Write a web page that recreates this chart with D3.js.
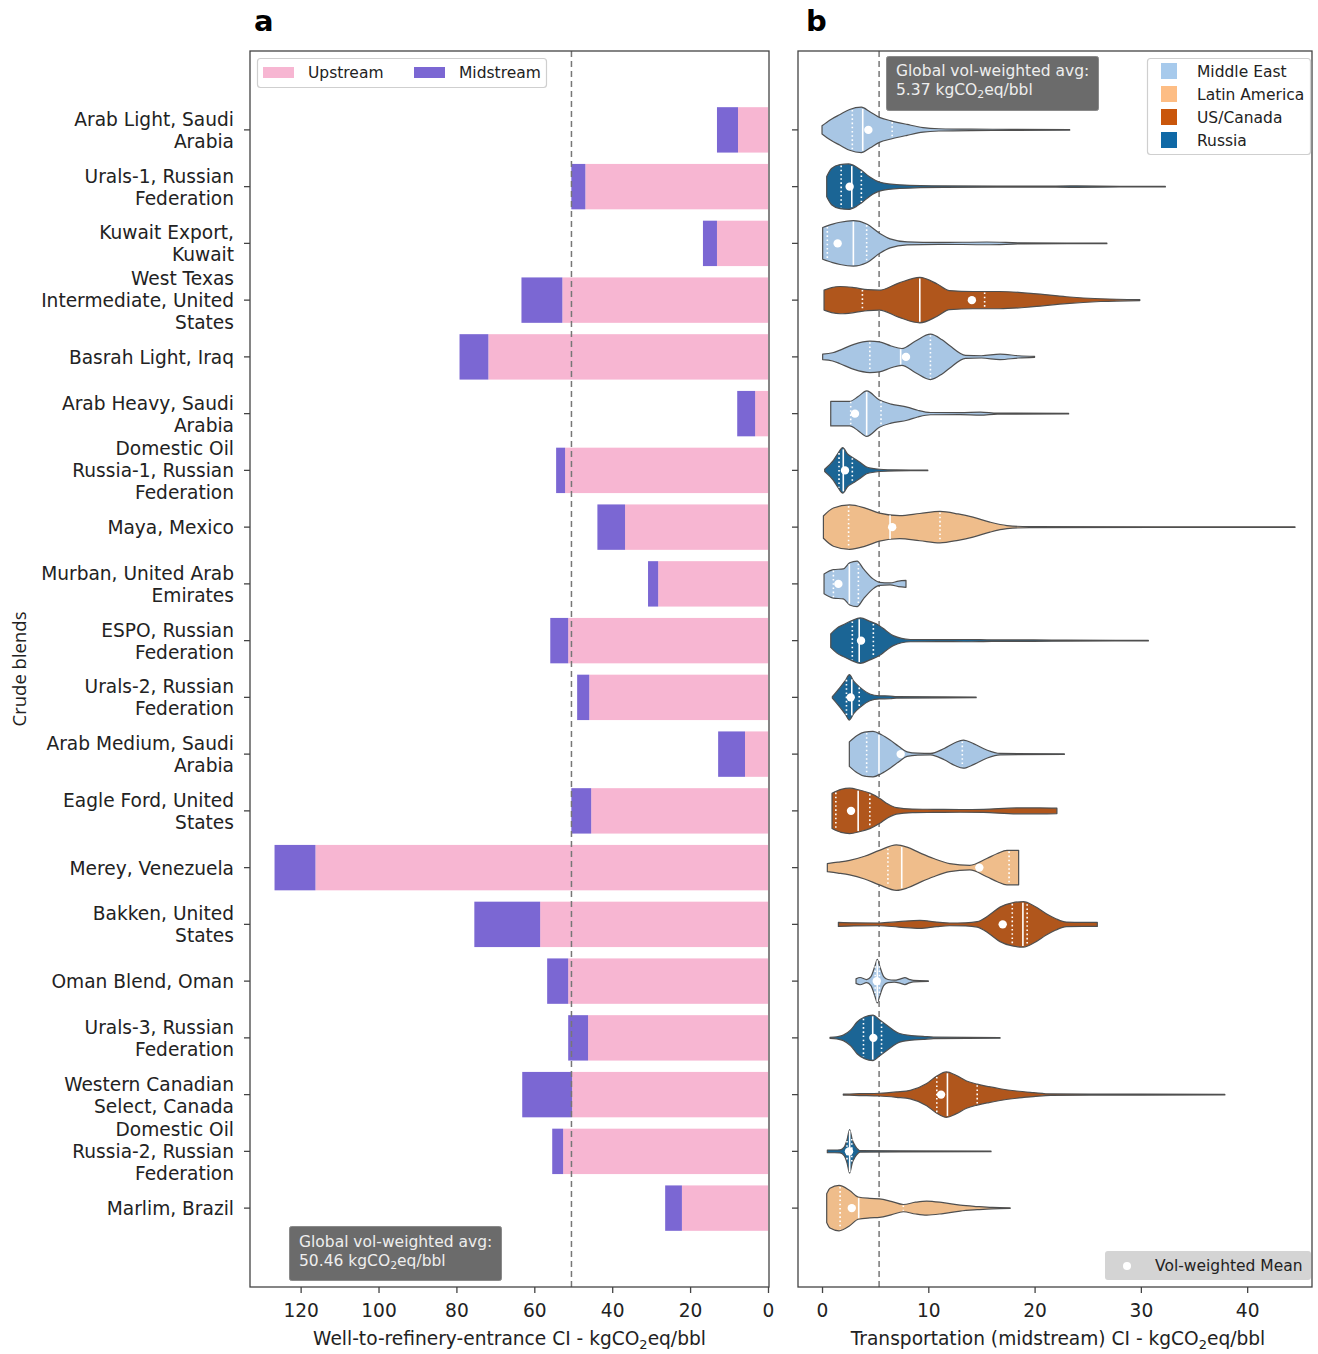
<!DOCTYPE html>
<html>
<head>
<meta charset="utf-8">
<script src="https://cdn.jsdelivr.net/npm/d3@7/dist/d3.min.js"></script>
<style>
  html, body { margin: 0; padding: 0; background: #fff; }
  svg { display: block; font-family: "DejaVu Sans", sans-serif; }
</style>
</head>
<body>
<svg id="chart" width="1318" height="1354"></svg>
<script>
// ---- Data ---------------------------------------------------------------
const blends = [
  "Arab Light, Saudi\nArabia",
  "Urals-1, Russian\nFederation",
  "Kuwait Export,\nKuwait",
  "West Texas\nIntermediate, United\nStates",
  "Basrah Light, Iraq",
  "Arab Heavy, Saudi\nArabia",
  "Domestic Oil\nRussia-1, Russian\nFederation",
  "Maya, Mexico",
  "Murban, United Arab\nEmirates",
  "ESPO, Russian\nFederation",
  "Urals-2, Russian\nFederation",
  "Arab Medium, Saudi\nArabia",
  "Eagle Ford, United\nStates",
  "Merey, Venezuela",
  "Bakken, United\nStates",
  "Oman Blend, Oman",
  "Urals-3, Russian\nFederation",
  "Western Canadian\nSelect, Canada",
  "Domestic Oil\nRussia-2, Russian\nFederation",
  "Marlim, Brazil"
];

// Well-to-refinery-entrance CI split (kgCO2eq/bbl)
const upstream  = [7.7, 46.9, 13.1, 52.8, 71.8, 3.3, 52.1, 36.7, 28.2, 51.3, 45.9, 5.9, 45.4, 116.2, 58.5, 51.3, 46.2, 50.3, 52.6, 22.1];
const midstream = [5.4, 3.6, 3.6, 10.5, 7.4, 4.6, 2.3, 7.1, 2.6, 4.6, 3.1, 6.9, 5.1, 10.5, 16.9, 5.4, 5.1, 12.8, 2.8, 4.3];

const regions = ["Middle East", "Russia", "Middle East", "US/Canada", "Middle East", "Middle East", "Russia",
  "Latin America", "Middle East", "Russia", "Russia", "Middle East", "US/Canada", "Latin America",
  "US/Canada", "Middle East", "Russia", "US/Canada", "Russia", "Latin America"];

const regionNames = ["Middle East", "Latin America", "US/Canada", "Russia"];
const regionLegendColors = ["#a7caec", "#fdbd84", "#c9560b", "#0f69a6"];
const regionViolinColors = ["#a8c6e4", "#efbd8b", "#b0561c", "#1b6595"];

// Transportation CI distributions: density profile [value, relative width]
const violinProfiles = [
  [[0,0.18],[0.8,0.45],[1.7,0.68],[2.6,0.9],[3.7,1.0],[4.5,0.8],[5.4,0.55],[6.5,0.4],[8,0.24],[9.5,0.1],[11,0.05],[14,0.03],[18,0.025],[23.3,0.015]],
  [[0.44,0.45],[0.9,0.8],[1.7,0.97],[2.5,1.0],[3.2,0.88],[3.7,0.72],[4.5,0.42],[5.4,0.2],[7.3,0.08],[11.4,0.03],[20,0.02],[24,0.03],[28,0.015],[32.3,0.015]],
  [[0.06,0.7],[1.0,0.85],[1.7,0.93],[2.95,1.0],[4.2,0.85],[5.4,0.45],[6.4,0.2],[8,0.07],[11,0.04],[15.5,0.06],[19,0.02],[26.8,0.015]],
  [[0.19,0.44],[0.9,0.55],[1.7,0.6],[3,0.55],[4.3,0.46],[5.4,0.44],[7.2,0.75],[9.2,1.0],[10.8,0.72],[12,0.42],[14.2,0.38],[16.7,0.38],[19.9,0.29],[23,0.15],[26.2,0.06],[29.9,0.02]],
  [[0.06,0.12],[1,0.18],[1.7,0.3],[3,0.55],[4.5,0.69],[5.4,0.66],[6.5,0.48],[7.5,0.37],[8.8,0.7],[10.2,1.0],[11.3,0.75],[12,0.5],[13.5,0.07],[15,0.05],[16.75,0.12],[18.5,0.05],[20,0.02]],
  [[0.82,0.54],[2.6,0.54],[3.4,0.75],[4.2,1.0],[5.4,0.6],[6.5,0.42],[8,0.29],[9,0.15],[10.2,0.05],[13,0.04],[14.9,0.07],[16.5,0.02],[23.2,0.015]],
  [[0.25,0.05],[1.07,0.44],[1.5,0.75],[1.95,1.0],[2.4,0.72],[2.95,0.55],[3.6,0.35],[4.2,0.15],[5.4,0.05],[7,0.02],[9.95,0.015]],
  [[0.13,0.49],[1.07,0.84],[2.6,0.98],[4,0.85],[5.4,0.62],[7.3,0.51],[9.2,0.6],[11.1,0.69],[12.8,0.58],[14.2,0.44],[15.8,0.22],[17.4,0.07],[19.5,0.02],[44.5,0.015]],
  [[0.19,0.44],[1.07,0.63],[2.0,0.66],[2.6,0.93],[3.3,1.0],[3.9,0.66],[4.8,0.22],[5.4,0.07],[6.4,0.04],[7.2,0.12],[7.9,0.15]],
  [[0.82,0.3],[1.4,0.55],[2.0,0.7],[2.8,0.88],[3.6,1.0],[4.5,0.85],[5.4,0.66],[6.0,0.45],[6.7,0.22],[8.3,0.05],[11,0.04],[13.6,0.05],[16,0.03],[19.9,0.03],[23,0.02],[30.7,0.015]],
  [[0.97,0.03],[1.7,0.44],[2.2,0.75],[2.57,1.0],[3.0,0.7],[3.58,0.44],[4.5,0.15],[5.4,0.07],[6.4,0.06],[7,0.03],[14.5,0.015]],
  [[2.57,0.54],[3.3,0.82],[4.0,0.97],[4.8,1.0],[5.6,0.85],[6.4,0.62],[7.2,0.35],[8,0.1],[9,0.04],[10.2,0.03],[11.5,0.25],[12.5,0.5],[13.3,0.62],[14.3,0.45],[15.5,0.18],[16.75,0.03],[22.8,0.015]],
  [[0.94,0.78],[1.8,0.95],[2.6,1.0],[3.5,0.92],[4.5,0.78],[5.4,0.56],[6.2,0.3],[7,0.14],[8.5,0.08],[10.5,0.07],[13,0.06],[15.2,0.07],[18.3,0.13],[20.5,0.13],[22.1,0.12]],
  [[0.5,0.18],[1.5,0.24],[2.6,0.32],[4,0.5],[5.4,0.76],[7,1.0],[8,0.9],[9.2,0.65],[10.5,0.4],[12,0.18],[13.9,0.1],[15.5,0.4],[16.5,0.62],[17.4,0.76],[18.5,0.76]],
  [[1.54,0.09],[3,0.07],[5.4,0.06],[7.2,0.12],[9.2,0.18],[10.8,0.1],[12,0.06],[13.5,0.07],[14.6,0.12],[15.7,0.4],[16.75,0.76],[17.9,0.95],[18.95,1.0],[20,0.8],[21.1,0.47],[22,0.25],[23,0.1],[24.5,0.09],[25.9,0.09]],
  [[3.2,0.1],[3.58,0.16],[4.2,0.07],[4.6,0.2],[5.0,0.7],[5.2,0.96],[5.4,0.7],[5.8,0.2],[6.2,0.07],[6.8,0.04],[7.4,0.1],[7.8,0.15],[8.2,0.08],[8.6,0.03],[10,0.015]],
  [[0.75,0.02],[1.4,0.05],[2,0.12],[2.7,0.35],[3.3,0.7],[4,0.92],[4.8,1.0],[5.4,0.8],[6.1,0.56],[6.7,0.35],[7.3,0.19],[8.4,0.1],[9.5,0.07],[10.5,0.03],[16.75,0.015]],
  [[2,0.02],[3.5,0.04],[5.4,0.06],[7,0.12],[8.3,0.19],[9.85,0.49],[10.8,0.82],[11.7,1.0],[12.6,0.85],[13.6,0.6],[14.6,0.46],[15.7,0.35],[16.75,0.26],[18.3,0.16],[19.9,0.09],[21.5,0.03],[30,0.02],[37.9,0.015]],
  [[0.5,0.06],[1.2,0.06],[1.7,0.07],[2.1,0.2],[2.35,0.5],[2.6,0.96],[2.85,0.5],[3.1,0.26],[3.4,0.08],[3.58,0.03],[15.9,0.015]],
  [[0.44,0.63],[0.75,0.88],[1.6,1.0],[2.6,0.78],[3.4,0.49],[4.5,0.43],[5.4,0.41],[6.5,0.3],[7.65,0.16],[8.8,0.26],[9.85,0.31],[11.4,0.24],[13,0.13],[14.6,0.07],[16,0.03],[17.7,0.015]]
];

// Quartiles [Q1, median, Q3] and volume-weighted mean per blend
const quartiles = [
  [2.85,3.83,6.6],[1.8,2.8,3.7],[0.5,2.95,4.2],[3.8,9.2,15.3],[4.5,7.4,10.2],
  [2.7,4.2,5.55],[1.6,2.0,2.85],[2.5,6.4,11.1],[1.07,2.57,3.42],[2.85,3.5,4.83],
  [2.3,2.8,3.5],[4.2,5.36,13.2],[1.3,3.4,4.5],[6.2,7.5,17.6],[17.9,18.9,19.3],
  [5.0,5.2,5.4],[3.9,4.77,5.6],[10.8,11.8,14.6],[2.35,2.6,2.8],[1.7,3.45,7.65]
];
const volMeans = [4.36,2.6,1.47,14.1,7.9,3.1,2.16,6.6,1.54,3.67,2.7,7.4,2.73,14.8,17.0,5.15,4.83,11.2,2.54,2.8];

const globalAvgWTR = 50.46;
const globalAvgMid = 5.37;
const ticksA = [120, 100, 80, 60, 40, 20, 0];
const ticksB = [0, 10, 20, 30, 40];

// ---- Layout -------------------------------------------------------------
const svg = d3.select("#chart");
const plotTop = 51, plotBottom = 1287;
const aL = 250, aR = 769, bL = 798, bR = 1312;
const frameColor = "#444";
const fontLabel = 18.6;

const y = d3.scaleLinear().domain([-1.39, 20.39]).range([plotTop, plotBottom]);
const rowH = y(1) - y(0);
const xA = d3.scaleLinear().domain([133.0, -0.26]).range([aL, aR]);
const xB = d3.scaleLinear().domain([-2.26, 46.1]).range([bL, bR]);

// ---- Panel a: stacked horizontal bars ----------------------------------
const gA = svg.append("g");
const barH = rowH * 0.8;
gA.selectAll("rect.up").data(upstream).join("rect")
  .attr("x", d => xA(d)).attr("width", d => xA(0) - xA(d))
  .attr("y", (d, i) => y(i) - barH / 2).attr("height", barH)
  .attr("fill", "#f7b6d2");
gA.selectAll("rect.mid").data(midstream).join("rect")
  .attr("x", (d, i) => xA(upstream[i] + d))
  .attr("width", (d, i) => xA(upstream[i]) - xA(upstream[i] + d))
  .attr("y", (d, i) => y(i) - barH / 2).attr("height", barH)
  .attr("fill", "#7b67d3");

gA.append("line")
  .attr("x1", xA(globalAvgWTR)).attr("x2", xA(globalAvgWTR))
  .attr("y1", plotTop).attr("y2", plotBottom)
  .attr("stroke", "#777").attr("stroke-width", 1.5).attr("stroke-dasharray", "6,4");

// y-axis tick labels (multi-line blend names)
blends.forEach((name, i) => {
  const lines = name.split("\n");
  const n = lines.length;
  const t = gA.append("text").attr("text-anchor", "end")
    .attr("font-size", fontLabel).attr("fill", "#222");
  lines.forEach((ln, k) => {
    t.append("tspan").attr("x", 234)
      .attr("y", y(i) + (k - (n - 1) / 2) * 22 + 7)
      .text(ln);
  });
  gA.append("line").attr("x1", aL - 6).attr("x2", aL).attr("y1", y(i)).attr("y2", y(i))
    .attr("stroke", frameColor).attr("stroke-width", 1.3);
});

// x axis a
const axA = d3.axisBottom(xA).tickValues(ticksA).tickSize(6).tickPadding(11).tickFormat(d3.format("d"));
const axAg = gA.append("g").attr("transform", `translate(0,${plotBottom})`).call(axA);
axAg.select(".domain").remove();
axAg.selectAll("line").attr("stroke", frameColor).attr("stroke-width", 1.3);
axAg.selectAll("text").attr("font-size", fontLabel).attr("font-family", "DejaVu Sans").attr("fill", "#222");

gA.append("rect").attr("x", aL).attr("y", plotTop).attr("width", aR - aL).attr("height", plotBottom - plotTop)
  .attr("fill", "none").attr("stroke", frameColor).attr("stroke-width", 1.3);

function subLabel(g, x, yy, pre, post, size, color, anchor) {
  const t = g.append("text").attr("x", x).attr("y", yy).attr("font-size", size)
    .attr("fill", color).attr("text-anchor", anchor || "start");
  t.append("tspan").text(pre + "kgCO");
  t.append("tspan").attr("font-size", size * 0.7).attr("dy", size * 0.2).text("2");
  t.append("tspan").attr("dy", -size * 0.2).text("eq/bbl" + post);
  return t;
}
subLabel(gA, (aL + aR) / 2, 1345, "Well-to-refinery-entrance CI - ", "", fontLabel, "#222", "middle");

// legend a
gA.append("rect").attr("x", 257.5).attr("y", 58.5).attr("width", 289).attr("height", 29).attr("rx", 3)
  .attr("fill", "#fff").attr("stroke", "#cfcfcf").attr("stroke-width", 1.2);
gA.append("rect").attr("x", 263).attr("y", 67).attr("width", 31).attr("height", 11).attr("fill", "#f7b6d2");
gA.append("text").attr("x", 308).attr("y", 78).attr("font-size", 15.5).attr("fill", "#222").text("Upstream");
gA.append("rect").attr("x", 414).attr("y", 67).attr("width", 31).attr("height", 11).attr("fill", "#7b67d3");
gA.append("text").attr("x", 459).attr("y", 78).attr("font-size", 15.5).attr("fill", "#222").text("Midstream");

// annotation a
gA.append("rect").attr("x", 289.5).attr("y", 1226.5).attr("width", 212).attr("height", 54).attr("rx", 2)
  .attr("fill", "#6b6b6b").attr("stroke", "#8a8a8a");
gA.append("text").attr("x", 299).attr("y", 1247).attr("font-size", 15.5).attr("fill", "#eee").text("Global vol-weighted avg:");
subLabel(gA, 299, 1266, globalAvgWTR.toFixed(2) + " ", "", 15.5, "#eee");

// title a
svg.append("text").attr("x", 254).attr("y", 31).attr("font-size", 29).attr("font-weight", "bold").attr("fill", "#000").text("a");

// y label
svg.append("text").attr("transform", "translate(26,669) rotate(-90)")
  .attr("text-anchor", "middle").attr("font-family", "'Open Sans', sans-serif")
  .attr("font-size", 18.5).attr("fill", "#222").text("Crude blends");

// ---- Panel b: violins ---------------------------------------------------
const gB = svg.append("g");
const halfW = rowH * 0.4;

gB.append("line")
  .attr("x1", xB(globalAvgMid)).attr("x2", xB(globalAvgMid))
  .attr("y1", plotTop).attr("y2", plotBottom)
  .attr("stroke", "#777").attr("stroke-width", 1.5).attr("stroke-dasharray", "6,4");

function widthAt(profile, v) {
  if (v <= profile[0][0]) return profile[0][1];
  for (let k = 1; k < profile.length; k++) {
    if (v <= profile[k][0]) {
      const [x0, w0] = profile[k - 1], [x1, w1] = profile[k];
      return w0 + (w1 - w0) * (v - x0) / (x1 - x0);
    }
  }
  return profile[profile.length - 1][1];
}

violinProfiles.forEach((prof, i) => {
  const cy = y(i);
  const col = regionViolinColors[regionNames.indexOf(regions[i])];
  const area = d3.area().curve(d3.curveMonotoneX)
    .x(d => xB(d[0]))
    .y0(d => cy - halfW * d[1])
    .y1(d => cy + halfW * d[1]);
  gB.append("path").attr("d", area(prof))
    .attr("fill", col).attr("stroke", "#4f4f4f").attr("stroke-width", 1.2).attr("stroke-linejoin", "round");

  quartiles[i].forEach((q, k) => {
    const w = halfW * widthAt(prof, q) - 1;
    gB.append("line").attr("x1", xB(q)).attr("x2", xB(q))
      .attr("y1", cy - w).attr("y2", cy + w)
      .attr("stroke", "#fff").attr("stroke-width", 1.6)
      .attr("stroke-dasharray", k === 1 ? null : "1.6,2.6");
  });
  gB.append("circle").attr("cx", xB(volMeans[i])).attr("cy", cy).attr("r", 4.2).attr("fill", "#fff");

  gB.append("line").attr("x1", bL - 6).attr("x2", bL).attr("y1", cy).attr("y2", cy)
    .attr("stroke", frameColor).attr("stroke-width", 1.3);
});

const axB = d3.axisBottom(xB).tickValues(ticksB).tickSize(6).tickPadding(11).tickFormat(d3.format("d"));
const axBg = gB.append("g").attr("transform", `translate(0,${plotBottom})`).call(axB);
axBg.select(".domain").remove();
axBg.selectAll("line").attr("stroke", frameColor).attr("stroke-width", 1.3);
axBg.selectAll("text").attr("font-size", fontLabel).attr("font-family", "DejaVu Sans").attr("fill", "#222");

gB.append("rect").attr("x", bL).attr("y", plotTop).attr("width", bR - bL).attr("height", plotBottom - plotTop)
  .attr("fill", "none").attr("stroke", frameColor).attr("stroke-width", 1.3);

subLabel(gB, (bL + bR) / 2 + 3, 1345, "Transportation (midstream) CI - ", "", fontLabel, "#222", "middle");

// annotation b
gB.append("rect").attr("x", 886.5).attr("y", 56.5).attr("width", 212).attr("height", 54).attr("rx", 2)
  .attr("fill", "#6b6b6b").attr("stroke", "#8a8a8a");
gB.append("text").attr("x", 896).attr("y", 76).attr("font-size", 15.5).attr("fill", "#eee").text("Global vol-weighted avg:");
subLabel(gB, 896, 95, globalAvgMid.toFixed(2) + " ", "", 15.5, "#eee");

// region legend
gB.append("rect").attr("x", 1147.5).attr("y", 58.5).attr("width", 163).attr("height", 96).attr("rx", 3)
  .attr("fill", "#fff").attr("stroke", "#cfcfcf").attr("stroke-width", 1.2);
regionNames.forEach((r, k) => {
  gB.append("rect").attr("x", 1161).attr("y", 63 + k * 23).attr("width", 16).attr("height", 16)
    .attr("fill", regionLegendColors[k]);
  gB.append("text").attr("x", 1197).attr("y", 77 + k * 23).attr("font-size", 15.5).attr("fill", "#222").text(r);
});

// mean-marker legend
gB.append("rect").attr("x", 1105).attr("y", 1251).attr("width", 206).attr("height", 29).attr("rx", 3)
  .attr("fill", "#d4d4d4");
gB.append("circle").attr("cx", 1127).attr("cy", 1266).attr("r", 4).attr("fill", "#fff");
gB.append("text").attr("x", 1155).attr("y", 1271).attr("font-size", 15.5).attr("fill", "#222").text("Vol-weighted Mean");

// title b
svg.append("text").attr("x", 806).attr("y", 31).attr("font-size", 29).attr("font-weight", "bold").attr("fill", "#000").text("b");
</script>
</body>
</html>
